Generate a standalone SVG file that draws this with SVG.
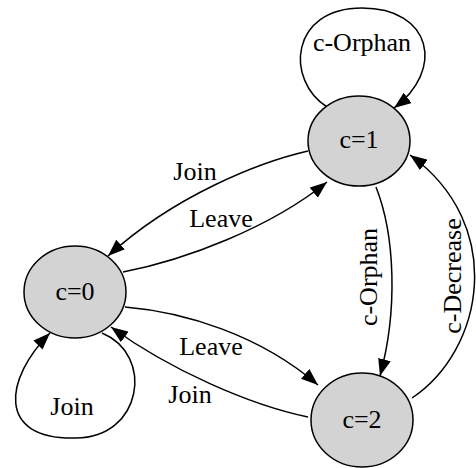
<svg xmlns="http://www.w3.org/2000/svg" width="476" height="468" viewBox="0 0 476 468">
<style>
.node ellipse{fill:#d3d3d3;stroke:#000;stroke-width:1.5}
.edge{fill:none;stroke:#000;stroke-width:1.5;marker-end:url(#arr)}
text{font-family:'Liberation Serif','Times New Roman',serif;font-size:26px;fill:#000;text-anchor:middle}
</style>
<defs>
<marker id="arr" viewBox="0 0 17 13" refX="17" refY="6.5" markerWidth="17" markerHeight="13" markerUnits="userSpaceOnUse" orient="auto">
<path d="M0,0 L17,6.5 L0,13 z" fill="#000"/>
</marker>
</defs>
<g id="connectors">
<path class="edge" d="M327,107 C285,80 290,8 362,8 C432,8 445,70 394,108"/>
<path class="edge" d="M308,151 C260,162 175,195 108,256"/>
<path class="edge" d="M123,272 C185,260 270,228 327,182"/>
<path class="edge" d="M125,307 C185,312 260,335 318,385"/>
<path class="edge" d="M308,417 C250,405 170,370 111,327"/>
<path class="edge" d="M376,187 C395,235 398,310 380,376"/>
<path class="edge" d="M412,398 C484,350 507,225 410,155"/>
<path class="edge" d="M102,333 C155,355 142,438 76,438 C-5,440 5,378 50,333"/>
<text x="362" y="51">c-Orphan</text>
<text x="195" y="180">Join</text>
<text x="221" y="227">Leave</text>
<text x="211" y="355">Leave</text>
<text x="190" y="403">Join</text>
<text x="72" y="415">Join</text>
<text transform="translate(377,277) rotate(-90)">c-Orphan</text>
<text transform="translate(461,276) rotate(-90)">c-Decrease</text>
</g>
<g id="c1" class="node"><ellipse cx="359" cy="141" rx="51" ry="45"/><text x="359" y="148">c=1</text></g>
<g id="c0" class="node"><ellipse cx="75" cy="292" rx="51" ry="46"/><text x="75" y="300">c=0</text></g>
<g id="c2" class="node"><ellipse cx="362" cy="420" rx="51" ry="47"/><text x="362" y="428">c=2</text></g>
</svg>
